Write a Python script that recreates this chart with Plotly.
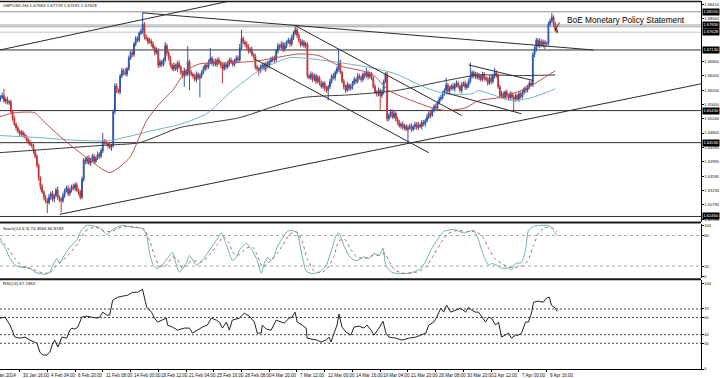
import plotly.graph_objects as go

# ---------------- data (prices in pips above BASE) ----------------
BASE = 1.6
PIP = 0.0001
FIRST_BAR = 5          # bar index of first visible candle (bar 0 = 28 Jan 2014 00:00)
FIRST_OPEN = 575

close_pips = [
    580, 585, 570, 575, 565, 568, 540, 520, 505, 495,
    485, 478, 482, 475, 470, 462, 455, 448, 445, 430,
    415, 390, 355, 330, 315, 300, 290, 285, 300, 310,
    295, 305, 320, 300, 295, 290, 305, 318, 325, 310,
    320, 330, 325, 335, 320, 315, 300, 350, 405, 400,
    410, 395, 405, 415, 400, 410, 420, 415, 430, 458,
    455, 450, 445, 440, 445, 540, 612, 600, 595, 640,
    655, 650, 645, 660, 690, 705, 700, 730, 745, 740,
    760, 765, 785, 750, 745, 735, 738, 730, 720, 705,
    712, 670, 680, 672, 685, 725, 705, 690, 670, 660,
    670, 660, 675, 665, 650, 640, 655, 645, 680, 650,
    645, 640, 630, 645, 635, 640, 650, 660, 670, 665,
    680, 690, 675, 680, 672, 685, 678, 670, 660, 672,
    665, 675, 685, 680, 672, 682, 690, 685, 720, 745,
    735, 730, 720, 710, 715, 700, 695, 665, 660, 655,
    665, 670, 660, 675, 668, 680, 685, 690, 685, 710,
    725, 720, 730, 715, 725, 735, 740, 730, 748, 760,
    770, 755, 740, 728, 735, 725, 730, 640, 635, 645,
    630, 640, 625, 635, 620, 610, 620, 605, 600, 610,
    625, 640, 635, 650, 660, 680, 650, 625, 610, 600,
    615, 605, 610, 620, 630, 625, 640, 635, 630, 645,
    640, 650, 638, 645, 635, 610, 595, 590, 600, 585,
    595, 625, 645, 520, 530, 540, 525, 535, 520, 510,
    500, 505, 495, 500, 490, 495, 500, 490, 498, 505,
    495, 503, 498, 510, 505, 515, 525, 535, 530, 545,
    555, 550, 565, 575, 580, 590, 600, 615, 598, 605,
    612, 605, 615, 620, 610, 600, 615, 620, 608, 615,
    625, 640, 650, 640, 645, 635, 640, 630, 645, 635,
    630, 620, 635, 625, 640, 650, 640, 610, 585, 590,
    580, 595, 585, 578, 590, 580, 575, 585, 575, 590,
    582, 595, 605, 600, 610, 620, 615, 700, 715, 740,
    725, 738, 728, 735, 730, 732, 785, 795, 805, 785,
    768, 763,
]
upper_wick = [
    6, 8, 19, 5, 7, 4, 6, 5, 8, 5,
    6, 4, 7, 5, 6, 4, 5, 6, 4, 5,
    4, 6, 5, 4, 8, 5, 6, 7, 9, 6,
    8, 5, 7, 10, 6, 5, 8, 6, 7, 9,
    6, 5, 8, 6, 7, 5, 6, 8, 5, 7,
    6, 8, 5, 7, 6, 5, 8, 6, 7, 22,
    5, 6, 4, 7, 5, 6, 8, 7, 5, 6,
    8, 6, 12, 5, 7, 6, 8, 5, 7, 6,
    5, 8, 32, 6, 7, 5, 9, 6, 7, 5,
    8, 6, 7, 5, 6, 10, 6, 5, 7, 6,
    8, 5, 7, 9, 6, 5, 8, 6, 44, 6,
    7, 5, 6, 8, 5, 7, 6, 8, 5, 7,
    6, 29, 5, 7, 9, 6, 8, 5, 6, 7,
    5, 8, 6, 7, 5, 6, 8, 7, 10, 25,
    6, 5, 7, 9, 6, 8, 5, 7, 6, 5,
    7, 6, 8, 5, 7, 6, 9, 5, 7, 6,
    8, 5, 7, 6, 9, 5, 7, 6, 8, 6,
    12, 6, 7, 5, 8, 6, 7, 5, 6, 8,
    5, 7, 6, 8, 5, 7, 6, 5, 8, 6,
    7, 5, 8, 6, 7, 36, 6, 5, 7, 6,
    8, 5, 7, 6, 8, 5, 9, 6, 7, 5,
    6, 13, 5, 7, 6, 5, 7, 6, 8, 5,
    7, 5, 6, 8, 5, 7, 6, 8, 5, 6,
    7, 5, 8, 6, 5, 7, 6, 8, 5, 7,
    6, 8, 5, 7, 6, 5, 8, 6, 7, 5,
    6, 8, 5, 7, 6, 8, 5, 20, 6, 7,
    5, 8, 6, 7, 5, 6, 8, 5, 7, 6,
    8, 37, 6, 5, 7, 6, 8, 5, 7, 6,
    5, 7, 6, 8, 5, 13, 6, 7, 5, 8,
    6, 5, 7, 6, 8, 5, 7, 6, 5, 8,
    6, 7, 5, 8, 6, 7, 5, 6, 8, 7,
    6, 8, 5, 7, 6, 5, 7, 6, 12, 5,
    6, 4,
]
lower_wick = [
    7, 5, 6, 8, 5, 6, 7, 6, 5, 8,
    5, 7, 6, 8, 5, 6, 7, 5, 6, 8,
    6, 7, 8, 10, 6, 9, 7, 30, 6, 8,
    7, 10, 6, 8, 9, 33, 6, 7, 5, 8,
    6, 7, 5, 8, 6, 9, 7, 5, 6, 8,
    7, 5, 8, 6, 7, 5, 6, 8, 5, 6,
    7, 6, 8, 5, 10, 6, 7, 8, 5, 7,
    6, 8, 5, 7, 6, 5, 8, 6, 7, 5,
    6, 5, 7, 8, 6, 7, 5, 8, 6, 7,
    5, 8, 6, 7, 5, 6, 8, 7, 6, 5,
    7, 6, 8, 5, 7, 6, 30, 7, 5, 50,
    6, 7, 5, 8, 6, 55, 7, 5, 6, 8,
    5, 7, 6, 8, 5, 7, 6, 8, 40, 6,
    7, 5, 8, 6, 7, 5, 6, 8, 5, 7,
    6, 8, 5, 7, 6, 5, 8, 7, 6, 14,
    6, 7, 5, 8, 6, 7, 5, 6, 8, 5,
    7, 6, 5, 8, 6, 7, 5, 8, 6, 7,
    5, 8, 6, 7, 5, 6, 8, 7, 5, 6,
    7, 5, 8, 6, 7, 5, 6, 8, 7, 28,
    6, 7, 5, 8, 6, 7, 5, 6, 8, 7,
    5, 7, 6, 8, 5, 7, 6, 5, 8, 6,
    7, 5, 8, 6, 7, 5, 6, 8, 7, 40,
    6, 7, 5, 8, 6, 7, 5, 6, 8, 7,
    5, 8, 6, 7, 5, 35, 6, 7, 5, 8,
    6, 7, 5, 8, 6, 7, 5, 6, 8, 5,
    7, 6, 8, 5, 7, 6, 5, 8, 6, 7,
    5, 6, 8, 7, 5, 6, 8, 5, 7, 6,
    8, 5, 7, 6, 8, 5, 7, 6, 5, 8,
    6, 7, 5, 8, 6, 7, 5, 6, 8, 7,
    5, 6, 8, 7, 5, 6, 30, 7, 5, 8,
    6, 5, 7, 8, 6, 7, 5, 6, 8, 7,
    5, 7, 6, 8, 15, 6, 7, 5, 6, 8,
    5, 4,
]

# moving averages (bar index, pips)
red_ma_bar = [4.7, 13.3, 24.8, 29.4, 42.1, 54.7, 68.0, 79.5, 89.3, 96.7, 104.2, 112.2, 119.7, 138.7,
              154.2, 177.2, 188.7, 200.2, 219.2, 229.0, 242.2, 253.7, 261.8, 273.3, 280.7, 292.2, 307.8, 325.0]
red_ma_pips = [526, 537, 537, 515, 459, 411, 369, 411, 515, 562, 599, 655, 674, 677,
               683, 702, 697, 669, 646, 599, 571, 551, 543, 551, 571, 579, 604, 655]
teal_ma_bar = [4.7, 27.7, 50.7, 68.0, 92.7, 108.2, 123.8, 138.7, 154.2, 171.5, 184.7, 219.2, 233.0,
               250.3, 261.8, 276.7, 280.7, 299.7, 311.2, 325.0]
teal_ma_pips = [473, 467, 459, 459, 487, 504, 534, 599, 655, 691, 688, 663, 646,
                607, 590, 590, 599, 571, 579, 604]
black_ma_bar = [4.7, 62.2, 85.2, 108.2, 142.7, 179.0, 206.0, 233.0, 261.8, 280.7, 303.7, 325.0]
black_ma_pips = [425, 445, 453, 495, 523, 579, 587, 599, 627, 643, 641, 643]

# trend lines (bar, price) -> (bar, price)
trend_bar0 = [4.7, 86.9, 175.5, 151.4, 39.2, 275.0, 261.8]
trend_px0 = [1.6713, 1.6817, 1.6780, 1.6688, 1.6252, 1.6671, 1.6593]
trend_bar1 = [137.0, 346.9, 271.0, 252.0, 409.0, 312.4, 305.5]
trend_px1 = [1.6850, 1.6713, 1.6529, 1.6425, 1.6618, 1.6627, 1.6534]

# horizontal price levels
level_prices = [1.6820, 1.6783, 1.6778, 1.67628, 1.6713, 1.6543, 1.6453, 1.6246]
level_colors = ["#8c8c8c", "#a0a0a0", "#a0a0a0", "#c4c4c4", "#303030", "#303030", "#303030", "#303030"]
box_prices = [1.6820, 1.6783, 1.67628, 1.6713, 1.6543, 1.6453, 1.6246]
box_texts = ["1.68200", "1.67830", "1.67628", "1.67130", "1.65430", "1.64530", "1.62460"]

# price axis labels
price_ticks = [1.6841, 1.6800, 1.6680, 1.6640, 1.6600, 1.6560, 1.6520, 1.6480, 1.6439, 1.6399,
               1.6359, 1.6319, 1.6279, 1.6238]
price_tick_text = ["1.68410", "1.68000", "1.66800", "1.66400", "1.66000", "1.65600", "1.65200",
                   "1.64800", "1.64390", "1.63990", "1.63590", "1.63190", "1.62790", "1.62380"]

# time axis labels (every 16 H4 bars)
date_ticks = [16 * k for k in range(21)]
date_labels = ["28 Jan 2014", "30 Jan 16:00", "4 Feb 04:00", "6 Feb 20:00", "11 Feb 08:00",
               "14 Feb 00:00", "18 Feb 12:00", "21 Feb 04:00", "25 Feb 16:00", "28 Feb 08:00",
               "4 Mar 20:00", "7 Mar 12:00", "12 Mar 00:00", "14 Mar 16:00", "19 Mar 04:00",
               "21 Mar 20:00", "26 Mar 08:00", "30 Mar 20:00", "2 Apr 12:00", "7 Apr 00:00",
               "9 Apr 16:00"]

# stochastic (14,3,3)
stoch_k_bar = [4.7, 7.6, 10.5, 13.3, 16.2, 22.0, 24.8, 30.6, 33.5, 35.2, 37.5, 39.2, 41.0, 45.0, 49.0,
               51.9, 54.7, 62.2, 66.3, 69.7, 75.4, 81.2, 86.9, 89.3, 91.0, 92.7, 95.0, 98.4, 102.5,
               104.2, 106.5, 108.2, 112.2, 114.0, 118.0, 121.4, 125.5, 129.5, 132.4, 135.3, 137.0,
               138.7, 141.0, 142.7, 146.7, 150.2, 153.1, 155.4, 157.1, 158.8, 161.1, 162.9, 164.6,
               166.9, 170.3, 173.2, 176.1, 178.4, 181.3, 184.7, 188.7, 192.7, 196.2, 198.5, 200.2,
               203.1, 206.0, 210.0, 214.6, 217.5, 220.4, 223.3, 225.6, 227.3, 230.7, 234.7, 240.5,
               244.5, 247.4, 250.3, 253.7, 257.7, 260.6, 266.4, 272.1, 277.9, 280.7, 282.5, 284.8,
               286.5, 288.2, 291.1, 294.0, 298.0, 299.7, 302.0, 305.5, 307.8, 309.5, 312.4, 321.0,
               323.9, 326.0]
stoch_k_val = [70, 57, 35, 22, 18, 16, 8, 4, 8, 22, 35, 25, 37, 57, 71,
               92, 100, 96, 82, 92, 100, 96, 94, 80, 45, 25, 15, 22, 41,
               47, 22, 8, 27, 41, 22, 31, 51, 71, 85, 61, 45,
               31, 37, 51, 65, 51, 31, 6, 25, 37, 31, 41, 57,
               71, 88, 90, 85, 50, 10, 5, 8, 20, 55, 80, 85,
               60, 40, 30, 38, 35, 45, 40, 55, 20, 8, 5, 6,
               10, 15, 30, 55, 75, 88, 92, 85, 90, 71, 51, 31,
               22, 25, 22, 16, 16, 12, 25, 27, 51, 90, 98, 100,
               90, 80]
stoch_d_bar = [4.7, 9.3, 13.3, 17.4, 23.1, 28.9, 33.5, 36.9, 40.4, 45.0, 49.6, 53.6, 59.3, 65.1, 69.1,
               74.9, 82.3, 88.1, 91.0, 93.8, 96.7, 100.7, 104.2, 107.1, 110.0, 114.0, 118.0, 121.4,
               125.5, 130.1, 133.5, 136.4, 139.3, 142.7, 146.7, 150.2, 153.1, 156.0, 158.8, 161.7,
               164.6, 168.0, 171.5, 175.5, 178.9, 181.8, 185.9, 189.9, 193.3, 197.4, 200.2, 203.7,
               207.1, 210.6, 215.2, 219.2, 223.3, 226.7, 229.0, 232.4, 237.6, 243.4, 247.4, 250.8,
               254.9, 258.9, 262.3, 268.1, 273.9, 279.0, 283.0, 286.5, 289.9, 294.0, 298.0, 302.0,
               305.5, 309.0, 312.4, 315.3, 318.7, 322.7, 326.0]
stoch_d_val = [75, 55, 35, 20, 14, 7, 6, 20, 30, 45, 65, 88, 97, 88, 88,
               97, 97, 92, 70, 40, 20, 22, 38, 33, 15, 28, 30, 28,
               42, 62, 78, 68, 45, 42, 55, 58, 42, 18, 25, 33,
               45, 62, 82, 88, 70, 35, 10, 7, 14, 40, 70, 72,
               52, 38, 35, 40, 42, 45, 30, 12, 6, 7, 11, 20,
               42, 65, 82, 90, 88, 88, 78, 55, 35, 25, 18, 17,
               20, 30, 60, 85, 95, 97, 88]

# RSI(14)
rsi_bar = [4.7, 7.6, 10.5, 13.3, 16.2, 19.1, 22.0, 24.8, 26.0, 27.7, 29.4, 31.7, 33.5, 35.2, 36.3,
           38.1, 40.4, 43.2, 45.0, 46.1, 47.8, 49.6, 51.9, 54.7, 57.6, 60.5, 62.2, 64.0, 66.3, 68.0,
           69.7, 72.6, 75.4, 78.3, 81.2, 84.1, 86.9, 89.3, 92.1, 93.8, 95.6, 98.4, 100.7, 101.3,
           104.2, 107.1, 111.1, 114.0, 115.7, 118.6, 121.4, 124.3, 126.6, 129.5, 131.2, 133.0,
           135.3, 137.0, 138.7, 142.7, 145.6, 148.5, 151.4, 153.1, 155.4, 156.0, 158.3, 161.1,
           164.0, 166.9, 168.6, 171.5, 173.2, 174.9, 176.1, 179.0, 181.3, 181.8, 184.7, 187.6,
           189.9, 192.8, 194.5, 195.6, 197.4, 199.1, 200.2, 202.0, 204.3, 207.1, 208.9, 211.8,
           214.6, 216.4, 218.7, 220.4, 223.3, 225.6, 227.3, 229.0, 233.0, 236.5, 240.5, 244.5,
           247.4, 250.3, 252.0, 254.9, 256.6, 258.9, 260.6, 262.3, 264.6, 267.5, 270.4, 273.3,
           275.0, 276.7, 279.0, 280.7, 282.5, 284.8, 286.5, 288.2, 290.5, 292.2, 294.0, 296.3,
           298.0, 299.7, 302.0, 303.7, 305.5, 307.8, 309.5, 311.2, 312.4, 315.2, 318.1, 319.8,
           321.6, 322.7, 325.0, 326.0]
rsi_val = [59.3, 60.5, 51.2, 37.2, 36.0, 37.2, 33.7, 31.4, 30.2, 19.8, 16.3, 16.3, 19.8, 30.2, 33.7,
           25.6, 37.2, 36.0, 45.3, 47.7, 46.5, 48.8, 60.5, 61.6, 60.5, 59.3, 60.5, 66.3, 62.8, 62.8,
           80.2, 83.7, 84.9, 86.0, 89.5, 89.5, 93.0, 72.1, 66.3, 59.3, 54.7, 57.0, 59.3, 51.2,
           48.8, 45.3, 47.7, 47.7, 41.9, 45.3, 48.8, 51.2, 59.3, 57.0, 54.7, 47.7,
           54.7, 45.3, 57.0, 59.3, 65.1, 61.6, 54.7, 41.9, 41.9, 51.2, 46.5, 45.3,
           57.0, 54.7, 53.5, 59.3, 60.5, 66.3, 54.7, 51.2, 47.7, 36.0, 34.9, 33.7,
           31.4, 33.7, 37.2, 31.4, 41.9, 51.2, 64.0, 48.8, 43.0, 39.5, 48.8, 50.0,
           47.7, 51.2, 45.3, 39.5, 47.7, 55.8, 41.9, 37.2, 36.0, 33.7, 36.0, 37.2,
           39.5, 41.9, 51.2, 54.7, 60.5, 70.9, 66.3, 74.4, 66.3, 68.6, 70.9, 66.3,
           72.1, 68.6, 66.3, 66.3, 60.5, 54.7, 60.5, 59.3, 51.2, 54.7, 37.2, 39.5,
           41.9, 36.0, 39.5, 39.5, 41.9, 54.7, 54.7, 65.1, 77.9, 79.1, 77.9, 82.6,
           83.7, 74.4, 70.9, 67.19]

# ---------------- build ----------------
assert len(close_pips) == len(upper_wick) == len(lower_wick)
bars = list(range(FIRST_BAR, FIRST_BAR + len(close_pips)))
open_pips = [FIRST_OPEN] + close_pips[:-1]
opens = [BASE + p * PIP for p in open_pips]
closes = [BASE + p * PIP for p in close_pips]
highs = [BASE + (max(o, c) + u) * PIP for o, c, u in zip(open_pips, close_pips, upper_wick)]
lows = [BASE + (min(o, c) - d) * PIP for o, c, d in zip(open_pips, close_pips, lower_wick)]

FONT = "Liberation Sans, Arial, sans-serif"
W, H = 720, 378
ML, MR, MT, MB = 0, 17, 0, 9
PH = H - MT - MB  # 369

X_RANGE = [4.72, 409.0]
MAIN_RANGE = [1.62294, 1.68503]
SMALL = 4.1


def pdom(top_px, bot_px):
    return [(PH - bot_px) / PH, (PH - top_px) / PH]


fig = go.Figure()

fig.add_trace(go.Candlestick(
    x=bars, open=opens, high=highs, low=lows, close=closes,
    increasing=dict(line=dict(color="#2a55a8", width=1), fillcolor="#2a55a8"),
    decreasing=dict(line=dict(color="#c23434", width=1), fillcolor="#c23434"),
    whiskerwidth=0, xaxis="x", yaxis="y", showlegend=False, hoverinfo="skip"))

for bx, py, col in [(black_ma_bar, black_ma_pips, "#3a3a3a"),
                    (teal_ma_bar, teal_ma_pips, "#6fb3c4"),
                    (red_ma_bar, red_ma_pips, "#c0504d")]:
    fig.add_trace(go.Scatter(x=bx, y=[BASE + p * PIP for p in py], mode="lines",
                             line=dict(color=col, width=1, shape="spline", smoothing=0.6),
                             xaxis="x", yaxis="y", showlegend=False, hoverinfo="skip"))

fig.add_trace(go.Scatter(x=stoch_k_bar, y=stoch_k_val, mode="lines",
                         line=dict(color="#66b2b2", width=1, shape="spline", smoothing=0.5),
                         xaxis="x2", yaxis="y2", showlegend=False, hoverinfo="skip"))
fig.add_trace(go.Scatter(x=stoch_d_bar, y=stoch_d_val, mode="lines",
                         line=dict(color="#b06a6a", width=1, dash="dot", shape="spline", smoothing=0.5),
                         xaxis="x2", yaxis="y2", showlegend=False, hoverinfo="skip"))
fig.add_trace(go.Scatter(x=rsi_bar, y=rsi_val, mode="lines",
                         line=dict(color="#222222", width=1),
                         xaxis="x3", yaxis="y3", showlegend=False, hoverinfo="skip"))

shapes = []
for p, col in zip(level_prices, level_colors):
    shapes.append(dict(type="line", xref="paper", x0=0, x1=1, yref="y", y0=p, y1=p,
                       line=dict(color=col, width=1), layer="below"))
for b0, p0, b1, p1 in zip(trend_bar0, trend_px0, trend_bar1, trend_px1):
    shapes.append(dict(type="line", xref="x", yref="y", x0=b0, y0=p0, x1=b1, y1=p1,
                       line=dict(color="#2b2b2b", width=1)))
for v in [80, 20]:
    shapes.append(dict(type="line", xref="paper", x0=0, x1=1, yref="y2", y0=v, y1=v,
                       line=dict(color="#a8a8a8", width=1, dash="dot"), layer="below"))
for v in [70, 60, 40, 30]:
    shapes.append(dict(type="line", xref="paper", x0=0, x1=1, yref="y3", y0=v, y1=v,
                       line=dict(color="#444444", width=1, dash="2px,2px"), layer="below"))
for ypix, wdt in [(0.5, 1.5), (222, 2), (279, 2)]:
    yp = (PH - ypix) / PH
    shapes.append(dict(type="line", xref="paper", yref="paper", x0=0, x1=1, y0=yp, y1=yp,
                       line=dict(color="#1a1a1a", width=wdt)))

ann = []
ann.append(dict(text="GBPUSD,H4 1.67683 1.67719 1.67591 1.67628", xref="paper", yref="paper",
                x=0, y=1, xanchor="left", yanchor="middle", xshift=1, yshift=-4.5,
                showarrow=False, font=dict(family=FONT, size=4.4, color="#111")))
ann.append(dict(text="Stoch(14,3,3) 74.3666 60.8183", xref="paper", yref="paper",
                x=0, y=(PH - 228) / PH, xanchor="left", yanchor="middle", xshift=1,
                showarrow=False, font=dict(family=FONT, size=4.4, color="#111")))
ann.append(dict(text="RSI(14) 67.1863", xref="paper", yref="paper",
                x=0, y=(PH - 283.5) / PH, xanchor="left", yanchor="middle", xshift=1,
                showarrow=False, font=dict(family=FONT, size=4.4, color="#111")))
for p, t in zip(box_prices, box_texts):
    ann.append(dict(text=t, xref="paper", yref="y", x=1, y=p, xanchor="left", yanchor="middle",
                    xshift=0.5, showarrow=False, bgcolor="#000000", borderpad=0.4,
                    font=dict(family=FONT, size=SMALL, color="#ffffff")))
# first date label sits at the left edge (its bar is just off-screen)
ann.append(dict(text=date_labels[0], xref="paper", yref="paper", x=0, y=0, xanchor="right",
                yanchor="top", xshift=18, yshift=-2.2, showarrow=False,
                font=dict(family=FONT, size=4.5, color="#111")))
# other date labels, left-aligned at their bar (MT4 style)
for b, t in zip(date_ticks[1:], date_labels[1:]):
    ann.append(dict(text=t, xref="x3", yref="paper", x=b, y=0, xanchor="left", yanchor="top",
                    xshift=1.2, yshift=-2.2, showarrow=False,
                    font=dict(family=FONT, size=4.5, color="#111")))
ann.append(dict(text="BoE Monetary Policy Statement", xref="x", yref="y", x=330.8, y=1.67972,
                xanchor="left", yanchor="middle", showarrow=False,
                font=dict(family=FONT, size=8.3, color="#000")))
ann.append(dict(text="", xref="x", yref="y", x=325.0, y=1.6769, ax=5, ay=-9,
                showarrow=True, arrowhead=1, arrowsize=0.6, arrowwidth=0.8, arrowcolor="#000"))

axis_common = dict(range=X_RANGE, showgrid=False, zeroline=False, fixedrange=True)
ytick_font = dict(family=FONT, size=SMALL, color="#111")
yaxis_common = dict(side="right", tickmode="array", ticks="outside", ticklen=1.5, tickcolor="#000",
                    tickfont=ytick_font, showline=True, linecolor="#000", linewidth=1,
                    showgrid=False, zeroline=False, fixedrange=True)

fig.update_layout(
    width=W, height=H, margin=dict(l=ML, r=MR, t=MT, b=MB),
    paper_bgcolor="#ffffff", plot_bgcolor="#ffffff",
    showlegend=False, shapes=shapes, annotations=ann,
    xaxis=dict(**axis_common, anchor="y", domain=[0, 1], showticklabels=False, ticks="",
               rangeslider=dict(visible=False)),
    xaxis2=dict(**axis_common, anchor="y2", domain=[0, 1], matches="x", showticklabels=False, ticks=""),
    xaxis3=dict(**axis_common, anchor="y3", domain=[0, 1], matches="x",
                tickmode="array", tickvals=date_ticks, showticklabels=False,
                ticks="outside", ticklen=2, tickcolor="#000", tickwidth=1,
                showline=True, linecolor="#000", linewidth=1),
    yaxis=dict(**yaxis_common, domain=pdom(0, 222), range=MAIN_RANGE, anchor="x",
               tickvals=price_ticks, ticktext=price_tick_text),
    yaxis2=dict(**yaxis_common, domain=pdom(223.5, 278), range=[-3.9, 102.9], anchor="x2",
                tickvals=[100, 80, 20, 0], ticktext=["100", "80", "20", "0"]),
    yaxis3=dict(**yaxis_common, domain=pdom(280, 369), range=[0, 103.5], anchor="x3",
                tickvals=[100, 70, 60, 40, 30, 0], ticktext=["100", "70", "60", "40", "30", "0"]),
)

fig.write_html("out.html", config={"displayModeBar": False},
               post_script="document.body.style.margin='0';document.body.style.overflow='hidden';")
